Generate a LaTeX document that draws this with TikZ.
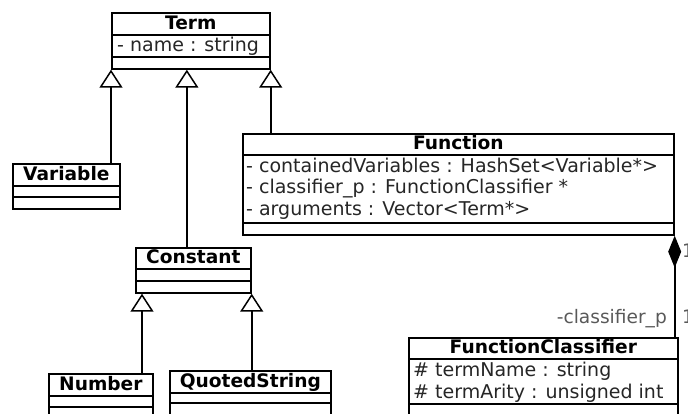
\documentclass[tikz,border=0pt]{standalone}
\usepackage{fontspec}
\setmainfont{DejaVu Sans}
\usetikzlibrary{arrows.meta,calc}

\tikzset{
  umlline/.style={line width=1.7pt, draw=black},
  classbox/.style={umlline, rectangle, inner sep=0pt, anchor=north west, fill=white},
  classname/.style={font=\fontsize{18.6}{22}\selectfont\bfseries, anchor=base, inner sep=0pt},
  attr/.style={font=\fontsize{19}{22}\selectfont, anchor=base west, inner sep=0pt, text=black!85},
  rolelabel/.style={font=\fontsize{18.6}{22}\selectfont, inner sep=0pt, text=black!65},
  inherit/.style={umlline, -{Triangle[open, length=18pt, width=23pt, line width=1.5pt]}},
  compose/.style={umlline, {Diamond[length=32pt, width=13pt]}-},
}

% \umlclass{name}{x1}{y1}{x2}{y2}{sep1}{sep2}{title}{title baseline}
\newcommand{\umlclass}[9]{%
  \node[classbox, minimum width=#4pt-#2pt, minimum height=#5pt-#3pt] (#1) at (#2,#3) {};
  \draw[umlline] (#1.west |- 0,#6) -- (#1.east |- 0,#6);
  \draw[umlline] (#1.west |- 0,#7) -- (#1.east |- 0,#7);
  \node[classname] (#1-title) at (#1.north |- 0,#9) {#8};
}

\begin{document}
\begin{tikzpicture}[x=1pt, y=-1pt]
  \useasboundingbox (0,0) rectangle (688,414);
  \clip (0,0) rectangle (688,414);

  % classes
  \umlclass{term}{111}{12}{269}{68}{35}{57}{Term}{30}
  \node[attr] (term-a1) at (117,52) {- name : string};

  \umlclass{variable}{12}{163}{119}{208}{186}{197}{Variable}{181}

  \umlclass{function}{242}{133}{673}{234}{155}{223}{Function}{150}
  \node[attr] (function-a1) at (246,173) {- containedVariables : HashSet<Variable*>};
  \node[attr] (function-a2) at (246,194) {- classifier\_p : FunctionClassifier *};
  \node[attr] (function-a3) at (246,215) {- arguments : Vector<Term*>};

  \umlclass{constant}{135}{247}{250}{292}{269}{281}{Constant}{263}

  \umlclass{number}{48}{373}{152}{420}{396}{407}{Number}{390}

  \umlclass{quoted}{169}{370}{330}{420}{393}{403}{QuotedString}{387}

  \umlclass{classifier}{408}{337}{677}{420}{359}{404}{FunctionClassifier}{353}
  \node[attr] (classifier-a1) at (413,376) {\# termName : string};
  \node[attr] (classifier-a2) at (413,398) {\# termArity : unsigned int};

  % attachment points of the generalization lines
  \coordinate (constant-up) at ($(constant.north)+(-6.5,0)$);
  \coordinate (number-up) at ($(constant.south west)+(7,0)$);

  % generalizations
  \draw[inherit] (variable.north -| term.south west) -- (term.south west);
  \draw[inherit] (constant-up) -- (constant-up |- term.south);
  \draw[inherit] (function.north -| term.south east) -- (term.south east);
  \draw[inherit] (number.north -| number-up) -- (number-up);
  \draw[inherit] (quoted.north -| constant.south east) -- (constant.south east);

  % composition
  \draw[compose] (function.south east) -- (function.south east |- classifier.north);
  \node[rolelabel, anchor=base west] (mult-top) at (682,257) {1};
  \node[rolelabel, anchor=base east] (role) at (667,323) {-classifier\_p};
  \node[rolelabel, anchor=base west] (mult-bottom) at (682,323) {1};
\end{tikzpicture}
\end{document}
